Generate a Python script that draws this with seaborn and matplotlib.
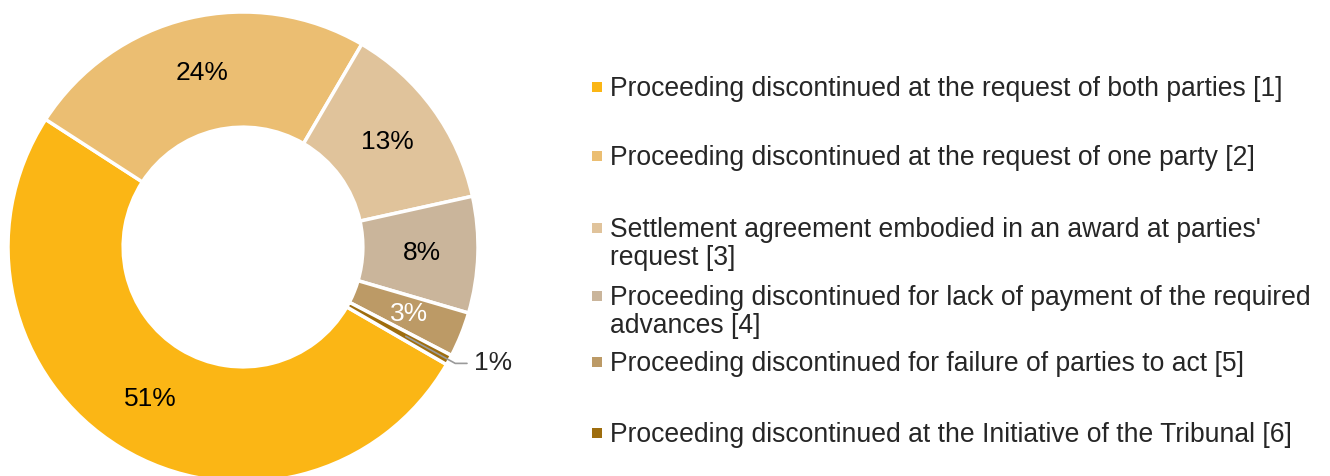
import numpy as np
import matplotlib
matplotlib.use("Agg")
import matplotlib.pyplot as plt
import seaborn as sns

# data
labels = [
    "Proceeding discontinued at the request of both parties [1]",
    "Proceeding discontinued at the request of one party [2]",
    "Settlement agreement embodied in an award at parties'\nrequest [3]",
    "Proceeding discontinued for lack of payment of the required\nadvances [4]",
    "Proceeding discontinued for failure of parties to act [5]",
    "Proceeding discontinued at the Initiative of the Tribunal [6]",
]
shares = [50.8, 24.3, 13.1, 8.0, 3.1, 0.7]
colors = ["#FBB615", "#EBBE72", "#E0C39B", "#CAB59B", "#BC9A66", "#9E6D0E"]

sns.set_theme(style="white")
plt.rcParams["font.family"] = ["Liberation Sans", "DejaVu Sans"]
palette = sns.color_palette(colors)

fig = plt.figure(figsize=(13.3, 4.76), dpi=100)

# donut
ax = fig.add_axes([8 / 1330, -6 / 476, 470 / 1330, 470 / 476])


def fmt(p):
    return "" if p < 1 else f"{p:.0f}%"


wedges, texts, autotexts = ax.pie(
    shares, colors=palette, startangle=-30, counterclock=False,
    radius=1, autopct=fmt, pctdistance=0.76,
    wedgeprops=dict(width=0.49, edgecolor="white", linewidth=2.5),
    textprops=dict(fontsize=19, color="black"),
)
autotexts[4].set_color("white")
ax.set_xlim(-1, 1)
ax.set_ylim(-1, 1)

# leader line for the smallest slice
w = wedges[5]
mid = np.deg2rad((w.theta1 + w.theta2) / 2)
x0, y0 = 0.79 * np.cos(mid), 0.79 * np.sin(mid)
x1, y1 = 1.03 * np.cos(mid), 1.03 * np.sin(mid)
ax.plot([x0, x1, x1 + 0.05], [y0, y1, y1], color="#9A9A9A", lw=1.2, clip_on=False)
ax.text(x1 + 0.08, y1, f"{shares[5]:.0f}%", fontsize=19, ha="left", va="center")

# legend
lg = fig.add_axes([0, 0, 1, 1])
lg.set_xlim(0, 1330)
lg.set_ylim(476, 0)
lg.axis("off")
line_y = [87, 156, 228, 296, 362, 433]
for lab, col, y in zip(labels, palette, line_y):
    lg.scatter([596.5], [y], marker="s", s=60, color=col, linewidths=0)
    lg.text(610, y - 11, lab, fontsize=19.1, ha="left", va="top", linespacing=1.1)

fig.savefig("out.png", dpi=100)
